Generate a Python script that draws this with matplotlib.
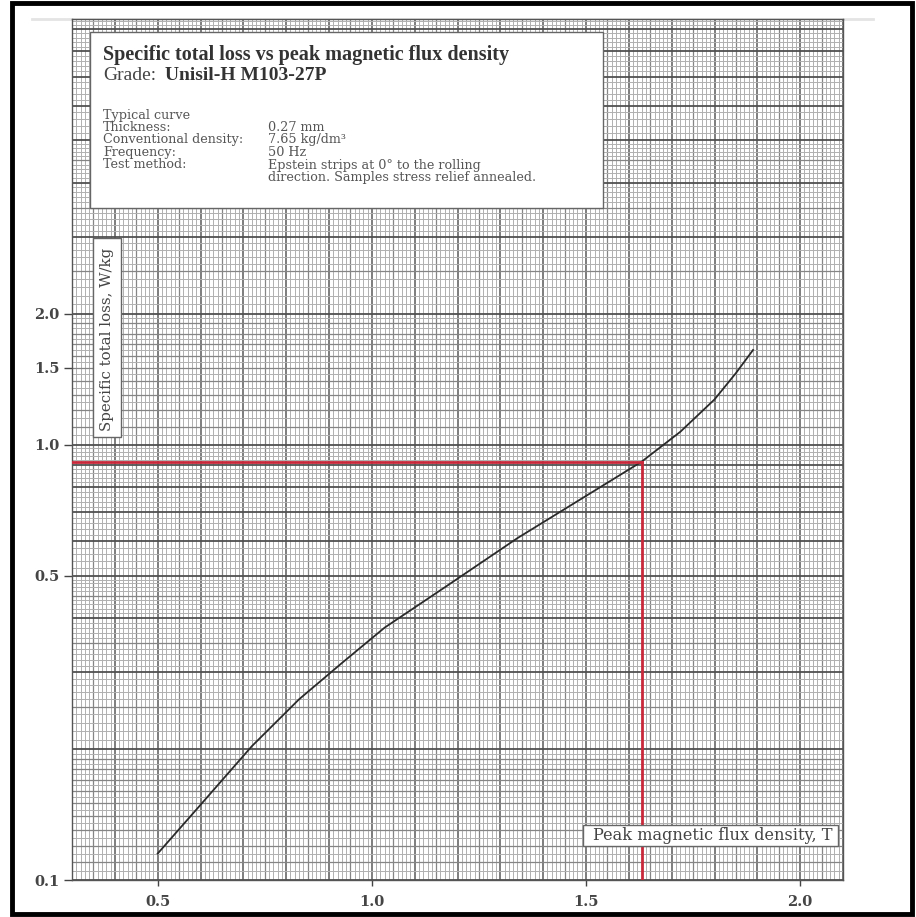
import numpy as np
import matplotlib
matplotlib.use("Agg")
import matplotlib.pyplot as plt
from matplotlib.patches import Rectangle

# Typical curve
flux = [0.50, 0.59, 0.72, 0.83, 0.93, 1.03, 1.17, 1.34, 1.53, 1.63, 1.72, 1.80, 1.85, 1.89]
loss = [0.115, 0.145, 0.203, 0.26, 0.315, 0.38, 0.47, 0.61, 0.795, 0.914, 1.07, 1.27, 1.46, 1.65]

# Red guide lines (operating point)
mark_flux = 1.63
mark_loss = 0.914

x_ticks = [0.5, 1.0, 1.5, 2.0]
x_tick_labels = ["0.5", "1.0", "1.5", "2.0"]
y_ticks = [0.1, 0.5, 1.0, 1.5, 2.0]
y_tick_labels = ["0.1", "0.5", "1.0", "1.5", "2.0"]

info_left = ["Typical curve", "Thickness:", "Conventional density:", "Frequency:", "Test method:", ""]
info_right = ["", "0.27 mm", "7.65 kg/dm³", "50 Hz", "Epstein strips at 0° to the rolling",
              "direction. Samples stress relief annealed."]

plt.rcParams["font.family"] = ["Liberation Serif", "DejaVu Serif"]
WIDE = ["DejaVu Serif", "Liberation Serif"]

W, H = 916, 917
fig = plt.figure(figsize=(W / 100, H / 100), dpi=100)
ax = fig.add_axes([72 / W, 1 - 880 / H, (843 - 72) / W, (880 - 19) / H])

x_min, x_max = 0.3, 2.1
y_min, y_max = 0.1, 9.5
ax.set_xlim(x_min, x_max)
ax.set_yscale("log")
ax.set_ylim(y_min, y_max)

# ---------------------------------
# graph paper grid
# ---------------------------------
xs = np.round(np.arange(x_min, x_max + 0.001, 0.01), 3)
minor_x = [v for v in xs if round(v * 100) % 5 != 0]
mid_x = [v for v in xs if round(v * 100) % 5 == 0 and round(v * 100) % 10 != 0]
major_x = [v for v in xs if round(v * 100) % 10 == 0]
ax.vlines(minor_x, y_min, y_max, color="#b0b0b0", lw=0.7, zorder=1)
ax.vlines(mid_x, y_min, y_max, color="#858585", lw=0.9, zorder=1)
ax.vlines(major_x, y_min, y_max, color="#5a5a5a", lw=1.1, zorder=1)


def sort_line(v, dec, half_step):
    if abs(v - round(v)) < 1e-6:
        major_y.append(v * dec)
    elif abs(v * half_step - round(v * half_step)) < 1e-6:
        mid_y.append(v * dec)
    else:
        minor_y.append(v * dec)


minor_y, mid_y, major_y = [], [], []
for dec in [0.1, 1.0]:
    for v in np.arange(1.0, 2.0, 0.05):
        sort_line(v, dec, 10)
    for v in np.arange(2.0, 5.0, 0.1):
        sort_line(v, dec, 2)
    for v in np.arange(5.0, 10.0, 0.2):
        sort_line(v, dec, 2)
ax.hlines(minor_y, x_min, x_max, color="#b0b0b0", lw=0.7, zorder=1)
ax.hlines(mid_y, x_min, x_max, color="#858585", lw=0.9, zorder=1)
ax.hlines(major_y, x_min, x_max, color="#505050", lw=1.3, zorder=1)

# ---------------------------------
# curve + red guides
# ---------------------------------
ax.plot(flux, loss, color="#2a2a2a", lw=1.3, zorder=3)
ax.plot([x_min, mark_flux], [mark_loss, mark_loss], color="#c8283a", lw=2.0, zorder=4)
ax.plot([mark_flux, mark_flux], [y_min, mark_loss], color="#c8283a", lw=2.0, zorder=4)

ax.set_xticks(x_ticks)
ax.set_xticklabels(x_tick_labels)
ax.set_yticks(y_ticks)
ax.set_yticklabels(y_tick_labels)
ax.minorticks_off()
ax.tick_params(axis="y", length=6, width=1, color="#444444", pad=3)
ax.tick_params(axis="x", length=4, width=1, color="#444444", pad=7)
for lbl in ax.get_xticklabels() + ax.get_yticklabels():
    lbl.set_family(WIDE)
    lbl.set_fontweight("bold")
    lbl.set_fontsize(10.5)
    lbl.set_color("#454545")
for s in ax.spines.values():
    s.set_color("#555555")
    s.set_linewidth(1.0)


def px_box(x0, y0, x1, y1):
    r = Rectangle((x0 / W, 1 - y1 / H), (x1 - x0) / W, (y1 - y0) / H,
                  transform=fig.transFigure, facecolor="white", edgecolor="#666666",
                  lw=1.0, zorder=5)
    fig.add_artist(r)


# faint scan edge above the plot
fig.add_artist(plt.Line2D([32 / W, 873 / W], [1 - 19 / H, 1 - 19 / H],
                          transform=fig.transFigure, color="#e4e4e4", lw=2, zorder=0))

# info box
px_box(90, 32, 603, 208)
fig.text(103 / W, 1 - 55 / H, "Specific total loss vs peak magnetic flux density",
         fontsize=14.5, fontweight="bold", color="#333333", va="center", zorder=6)
fig.text(103 / W, 1 - 76 / H, "Grade:", fontsize=14, color="#444444", va="center", zorder=6)
fig.text(165 / W, 1 - 76 / H, "Unisil-H M103-27P", fontsize=14, fontweight="bold",
         color="#333333", va="center", zorder=6)
for i, (a, b) in enumerate(zip(info_left, info_right)):
    yy = 1 - (115 + i * 12.5) / H
    if a:
        fig.text(103 / W, yy, a, fontsize=9.2, family=WIDE, color="#555555",
                 va="center", zorder=6)
    if b:
        fig.text(268 / W, yy, b, fontsize=9.2, family=WIDE, color="#555555",
                 va="center", zorder=6)

# axis label boxes
px_box(93, 238, 121, 437)
fig.text(107 / W, 1 - 339 / H, "Specific total loss, W/kg", rotation=90, family=WIDE,
         fontsize=10.8, color="#444444", ha="center", va="center", zorder=6)
px_box(583, 825, 838, 846)
fig.text(713 / W, 1 - 835.5 / H, "Peak magnetic flux density, T", family=WIDE,
         fontsize=11.6, color="#444444", ha="center", va="center", zorder=6)

# outer black frame
fig.add_artist(Rectangle((12 / W, 1 - 914 / H), (912 - 12) / W, (914 - 3) / H,
                         transform=fig.transFigure, fill=False, edgecolor="black",
                         lw=3.5, zorder=10))

fig.savefig("out.png", dpi=100)
plt.close(fig)
